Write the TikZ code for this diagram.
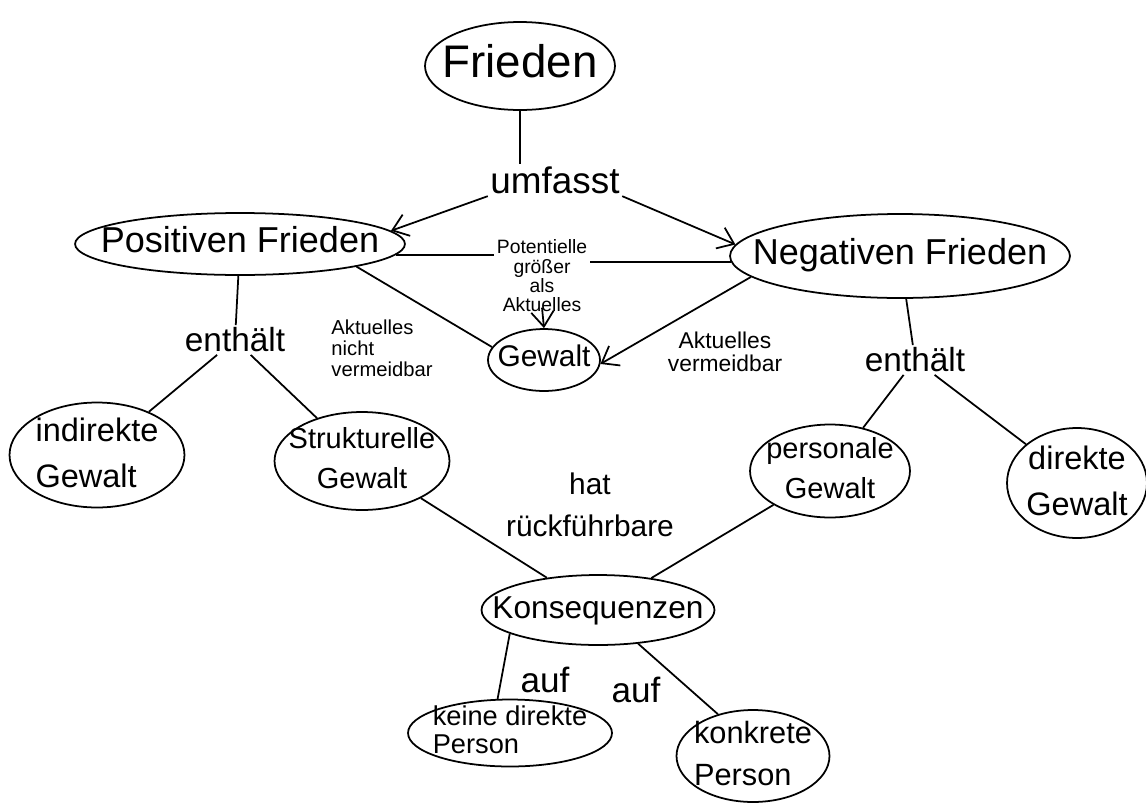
\documentclass[tikz,border=0pt]{standalone}
\usepackage{fontspec}
\setmainfont{Liberation Sans}
\usetikzlibrary{shapes.geometric, arrows.meta}

\newcommand{\bubtext}[2][c]{\raisebox{-0.25em}[0pt][0pt]{\makebox[0pt]{\begin{tabular}{@{}#1@{}}#2\end{tabular}}}}

\tikzset{
  bubble/.style={ellipse, draw, inner sep=0pt},
  word/.style={inner sep=1pt, align=center},
}

\begin{document}
\begin{tikzpicture}[x=0.02cm, y=-0.02cm, line width=1pt, >={Straight Barb[length=3mm,width=4.5mm]}]
\useasboundingbox (0,0) rectangle (1146,805);
\node (fr) at (520,66) [bubble, minimum width=3.8cm, minimum height=1.76cm, font=\fontsize{26}{30}\selectfont] {\bubtext{Frieden}};
\node (umf) at (555,180) [word, font=\fontsize{21}{24}\selectfont] {umfasst};
\node (pos) at (240,244) [bubble, minimum width=6.6cm, minimum height=1.24cm, font=\fontsize{20.5}{24}\selectfont] {\bubtext{Positiven Frieden}};
\node (neg) at (900,256) [bubble, minimum width=6.8cm, minimum height=1.68cm, font=\fontsize{20.5}{24}\selectfont] {\bubtext{Negativen Frieden}};
\node (pot) at (542,276) [word, font=\fontsize{11}{11}\selectfont] {Potentielle\\größer\\als\\Aktuelles};
\node (gew) at (544,360) [bubble, minimum width=2.24cm, minimum height=1.24cm, font=\fontsize{17}{20}\selectfont] {\bubtext{Gewalt}};
\node (akn) at (382,348) [word, align=left, font=\fontsize{11.5}{12}\selectfont] {Aktuelles\\nicht\\vermeidbar};
\node (akv) at (725,352) [word, font=\fontsize{13}{13}\selectfont] {Aktuelles\\vermeidbar};
\node (ent1) at (235,340) [word, font=\fontsize{19}{22}\selectfont] {enthält};
\node (ent2) at (915,360) [word, font=\fontsize{19}{22}\selectfont] {enthält};
\node (ind) at (97,455) [bubble, minimum width=3.5cm, minimum height=2.1cm, font=\fontsize{18.5}{26}\selectfont] {\bubtext[l]{indirekte\\Gewalt}};
\node (str) at (362,461) [bubble, minimum width=3.5cm, minimum height=1.96cm, font=\fontsize{16.5}{23}\selectfont] {\bubtext{Strukturelle\\Gewalt}};
\node (per) at (830,471) [bubble, minimum width=3.2cm, minimum height=1.86cm, font=\fontsize{16.5}{23}\selectfont] {\bubtext{personale\\Gewalt}};
\node (dir) at (1077,483) [bubble, minimum width=2.8cm, minimum height=2.2cm, font=\fontsize{18.5}{26}\selectfont] {\bubtext{direkte\\Gewalt}};
\node (hat) at (590,505) [word, font=\fontsize{17}{24}\selectfont] {hat\\rückführbare};
\node (kon) at (598,610) [bubble, minimum width=4.66cm, minimum height=1.4cm, font=\fontsize{18}{22}\selectfont] {\bubtext{Konsequenzen}};
\node (auf1) at (545,680) [word, font=\fontsize{20}{22}\selectfont] {auf};
\node (auf2) at (636,690) [word, font=\fontsize{20}{22}\selectfont] {auf};
\node (kei) at (510,733) [bubble, minimum width=4.08cm, minimum height=1.34cm, font=\fontsize{15.5}{16}\selectfont] {\bubtext[l]{keine direkte\\Person}};
\node (kkp) at (753,756) [bubble, minimum width=3.06cm, minimum height=1.84cm, font=\fontsize{17.5}{24}\selectfont] {\bubtext[l]{konkrete\\Person}};
\draw (fr.south) -- (fr.south |- umf.north);
\draw[->] (umf.south west) -- (pos.5);
\draw[->] (umf.south east) -- (neg.176);
\draw (pos.-4) -- (pos.-4 -| pot.west);
\draw (neg.182) -- (neg.182 -| pot.east);
\draw[->] ([yshift=4pt]pot.south) -- (gew.north);
\draw (pos.-11) -- (gew.166);
\draw[->] (neg.188) -- (gew.-4);
\draw (pos) -- (ent1);
\draw (ent1) -- (ind);
\draw (ent1) -- (str);
\draw (neg) -- (ent2);
\draw (ent2) -- (per);
\draw (ent2) -- (dir);
\draw (str) -- (kon);
\draw (per) -- (kon);
\draw (kon.195) -- (kei.110);
\draw (kon.-40) -- (kkp.130);
\end{tikzpicture}
\end{document}
